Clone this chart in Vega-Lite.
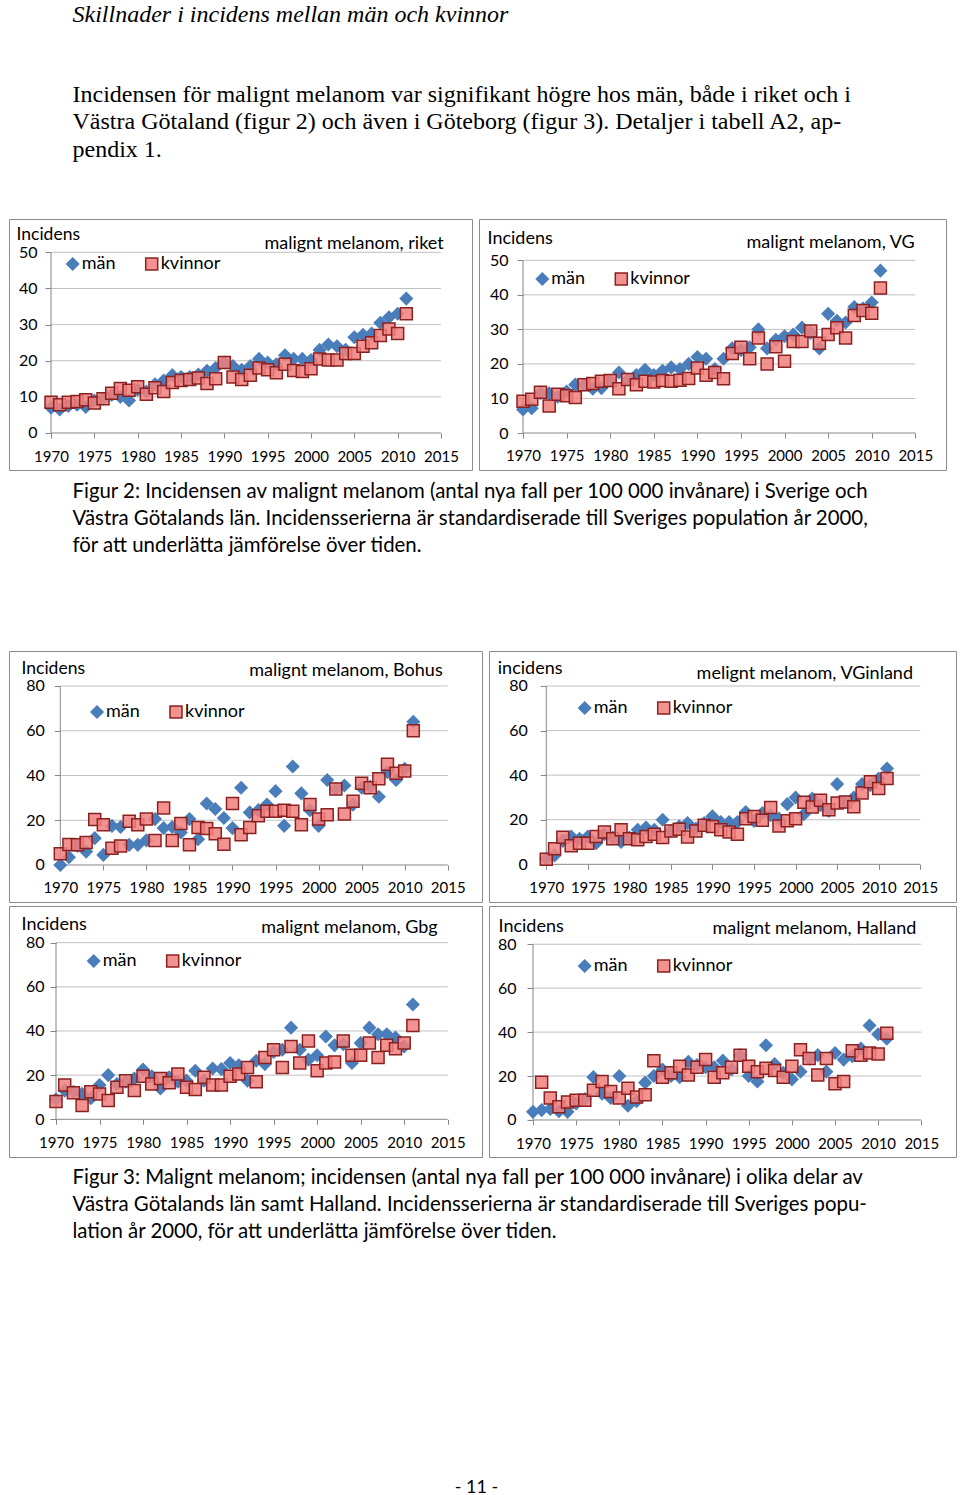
{
"$schema": "https://vega.github.io/schema/vega-lite/v6.json",
"padding": {"left": 8, "top": 2, "right": 0, "bottom": 0},
"title": {"text": "Skillnader i incidens mellan män och kvinnor", "subtitle": ["Incidensen för malignt melanom var signifikant högre hos män, både i riket och i", "Västra Götaland (figur 2) och även i Göteborg (figur 3). Detaljer i tabell A2, ap-", "pendix 1."], "anchor": "start", "dx": 64, "offset": 57, "font": "Liberation Serif", "fontSize": 24, "fontStyle": "italic", "fontWeight": "normal", "color": "#000", "subtitleFont": "Liberation Serif", "subtitleFontSize": 24, "subtitleFontStyle": "normal", "subtitleColor": "#000", "subtitleLineHeight": 27.5, "subtitlePadding": 56},
"resolve": {"scale": {"shape": "independent", "fill": "independent", "stroke": "independent"}, "legend": {"shape": "independent", "fill": "independent", "stroke": "independent"}},
"datasets": {
"riket": [
{"år":1970,"män":7,"kvinnor":8.5},{"år":1971,"män":6.5,"kvinnor":7.8},{"år":1972,"män":7.5,"kvinnor":8.5},{"år":1973,"män":7.8,"kvinnor":8.7},{"år":1974,"män":7.2,"kvinnor":9.2},{"år":1975,"män":9,"kvinnor":8.3},{"år":1976,"män":9.5,"kvinnor":9.5},{"år":1977,"män":10.5,"kvinnor":11},{"år":1978,"män":10,"kvinnor":12.3},{"år":1979,"män":9,"kvinnor":11.8},{"år":1980,"män":12,"kvinnor":12.8},{"år":1981,"män":11.5,"kvinnor":10.7},{"år":1982,"män":13.5,"kvinnor":12.5},{"år":1983,"män":14.5,"kvinnor":11.5},{"år":1984,"män":16,"kvinnor":14},{"år":1985,"män":15.5,"kvinnor":14.5},{"år":1986,"män":15.5,"kvinnor":14.8},{"år":1987,"män":16.2,"kvinnor":15.2},{"år":1988,"män":17.2,"kvinnor":13.7},{"år":1989,"män":18,"kvinnor":15},{"år":1990,"män":19.5,"kvinnor":19.5},{"år":1991,"män":18.5,"kvinnor":15.5},{"år":1992,"män":17.5,"kvinnor":14.8},{"år":1993,"män":18.5,"kvinnor":16},{"år":1994,"män":20.5,"kvinnor":18},{"år":1995,"män":19.5,"kvinnor":17.5},{"år":1996,"män":19,"kvinnor":16.7},{"år":1997,"män":21.5,"kvinnor":19},{"år":1998,"män":20.5,"kvinnor":17.3},{"år":1999,"män":20.5,"kvinnor":17},{"år":2000,"män":20.2,"kvinnor":17.8},{"år":2001,"män":23,"kvinnor":20.5},{"år":2002,"män":24.5,"kvinnor":20.2},{"år":2003,"män":24,"kvinnor":20.2},{"år":2004,"män":23,"kvinnor":22},{"år":2005,"män":26.5,"kvinnor":22},{"år":2006,"män":27.2,"kvinnor":24},{"år":2007,"män":27.5,"kvinnor":25},{"år":2008,"män":30.5,"kvinnor":27},{"år":2009,"män":32,"kvinnor":28.8},{"år":2010,"män":33,"kvinnor":27.5},{"år":2011,"män":37.2,"kvinnor":33}
],
"vg": [
{"år":1970,"män":6.8,"kvinnor":9.2},{"år":1971,"män":7.2,"kvinnor":9.8},{"år":1972,"män":11.5,"kvinnor":11.8},{"år":1973,"män":11.5,"kvinnor":7.8},{"år":1974,"män":10.5,"kvinnor":11.2},{"år":1975,"män":12,"kvinnor":10.8},{"år":1976,"män":14,"kvinnor":10.3},{"år":1977,"män":14,"kvinnor":14},{"år":1978,"män":12.8,"kvinnor":14.3},{"år":1979,"män":13,"kvinnor":15},{"år":1980,"män":15.2,"kvinnor":15.2},{"år":1981,"män":17.5,"kvinnor":12.8},{"år":1982,"män":15.5,"kvinnor":15.5},{"år":1983,"män":16.8,"kvinnor":14},{"år":1984,"män":18.3,"kvinnor":15},{"år":1985,"män":16.8,"kvinnor":14.8},{"år":1986,"män":18,"kvinnor":15.2},{"år":1987,"män":19,"kvinnor":15},{"år":1988,"män":18.5,"kvinnor":15.3},{"år":1989,"män":20,"kvinnor":15.8},{"år":1990,"män":22,"kvinnor":18.8},{"år":1991,"män":21.5,"kvinnor":16.7},{"år":1992,"män":18.5,"kvinnor":17.5},{"år":1993,"män":21.5,"kvinnor":15.7},{"år":1994,"män":24.5,"kvinnor":23},{"år":1995,"män":24,"kvinnor":24.8},{"år":1996,"män":24.8,"kvinnor":21.5},{"år":1997,"män":30,"kvinnor":27.5},{"år":1998,"män":24.5,"kvinnor":20},{"år":1999,"män":27,"kvinnor":25},{"år":2000,"män":28,"kvinnor":20.8},{"år":2001,"män":28.5,"kvinnor":26.5},{"år":2002,"män":30.5,"kvinnor":26.5},{"år":2003,"män":29,"kvinnor":29.5},{"år":2004,"män":24.5,"kvinnor":26},{"år":2005,"män":34.5,"kvinnor":28.5},{"år":2006,"män":32.5,"kvinnor":30.5},{"år":2007,"män":32,"kvinnor":27.5},{"år":2008,"män":36.5,"kvinnor":34},{"år":2009,"män":36,"kvinnor":35.5},{"år":2010,"män":37.8,"kvinnor":34.7},{"år":2011,"män":47,"kvinnor":42}
],
"bohus": [
{"år":1970,"män":0,"kvinnor":5},{"år":1971,"män":3.5,"kvinnor":9.2},{"år":1972,"män":8.5,"kvinnor":9},{"år":1973,"män":6,"kvinnor":10},{"år":1974,"män":12,"kvinnor":20.3},{"år":1975,"män":4.5,"kvinnor":18},{"år":1976,"män":17.5,"kvinnor":7.5},{"år":1977,"män":17,"kvinnor":8.5},{"år":1978,"män":9,"kvinnor":19.5},{"år":1979,"män":9,"kvinnor":18},{"år":1980,"män":11,"kvinnor":20.5},{"år":1981,"män":20.5,"kvinnor":11},{"år":1982,"män":16.5,"kvinnor":25.5},{"år":1983,"män":17,"kvinnor":11},{"år":1984,"män":14.5,"kvinnor":18.5},{"år":1985,"män":20.5,"kvinnor":9},{"år":1986,"män":11.5,"kvinnor":16.8},{"år":1987,"män":27.5,"kvinnor":16.3},{"år":1988,"män":25,"kvinnor":14},{"år":1989,"män":21,"kvinnor":9.3},{"år":1990,"män":16.5,"kvinnor":27.5},{"år":1991,"män":34.5,"kvinnor":13.5},{"år":1992,"män":23.5,"kvinnor":16.8},{"år":1993,"män":24.5,"kvinnor":22},{"år":1994,"män":27,"kvinnor":24},{"år":1995,"män":33,"kvinnor":24},{"år":1996,"män":17.5,"kvinnor":24.5},{"år":1997,"män":44,"kvinnor":24},{"år":1998,"män":32,"kvinnor":18},{"år":1999,"män":24.5,"kvinnor":27},{"år":2000,"män":17.5,"kvinnor":20.5},{"år":2001,"män":38,"kvinnor":22.5},{"år":2002,"män":34,"kvinnor":34},{"år":2003,"män":35.5,"kvinnor":22.8},{"år":2004,"män":27,"kvinnor":28.5},{"år":2005,"män":34.5,"kvinnor":36.5},{"år":2006,"män":35,"kvinnor":34.5},{"år":2007,"män":30.5,"kvinnor":38.5},{"år":2008,"män":41.5,"kvinnor":45},{"år":2009,"män":38,"kvinnor":41},{"år":2010,"män":43,"kvinnor":42},{"år":2011,"män":64,"kvinnor":60}
],
"vginland": [
{"år":1970,"män":2.5,"kvinnor":2.3},{"år":1971,"män":4,"kvinnor":7},{"år":1972,"män":10.5,"kvinnor":12.2},{"år":1973,"män":12.5,"kvinnor":8.3},{"år":1974,"män":11.5,"kvinnor":9.5},{"år":1975,"män":12.5,"kvinnor":9.5},{"år":1976,"män":9.5,"kvinnor":12.5},{"år":1977,"män":13.5,"kvinnor":14.5},{"år":1978,"män":12,"kvinnor":11.5},{"år":1979,"män":10,"kvinnor":15.5},{"år":1980,"män":12,"kvinnor":11.5},{"år":1981,"män":15.5,"kvinnor":11},{"år":1982,"män":16.5,"kvinnor":12.5},{"år":1983,"män":15.5,"kvinnor":13.5},{"år":1984,"män":20,"kvinnor":12},{"år":1985,"män":15,"kvinnor":15},{"år":1986,"män":17,"kvinnor":15.7},{"år":1987,"män":18.5,"kvinnor":12.3},{"år":1988,"män":16,"kvinnor":15},{"år":1989,"män":18.5,"kvinnor":17.5},{"år":1990,"män":21.5,"kvinnor":17},{"år":1991,"män":19,"kvinnor":15.5},{"år":1992,"män":19,"kvinnor":14.5},{"år":1993,"män":19,"kvinnor":13.5},{"år":1994,"män":23.5,"kvinnor":20.5},{"år":1995,"män":19.5,"kvinnor":21.5},{"år":1996,"män":23,"kvinnor":19.8},{"år":1997,"män":22,"kvinnor":25.5},{"år":1998,"män":20.5,"kvinnor":17.2},{"år":1999,"män":27,"kvinnor":19.5},{"år":2000,"män":30,"kvinnor":20.5},{"år":2001,"män":22.5,"kvinnor":27.8},{"år":2002,"män":29.5,"kvinnor":25.7},{"år":2003,"män":26.5,"kvinnor":28.8},{"år":2004,"män":24,"kvinnor":24.5},{"år":2005,"män":36,"kvinnor":27.5},{"år":2006,"män":28,"kvinnor":28},{"år":2007,"män":30,"kvinnor":25.8},{"år":2008,"män":36,"kvinnor":32},{"år":2009,"män":35.5,"kvinnor":37},{"år":2010,"män":38.5,"kvinnor":34},{"år":2011,"män":43,"kvinnor":38.5}
],
"gbg": [
{"år":1970,"män":9,"kvinnor":8},{"år":1971,"män":13,"kvinnor":15.5},{"år":1972,"män":12.5,"kvinnor":12},{"år":1973,"män":11.5,"kvinnor":6.2},{"år":1974,"män":9.5,"kvinnor":12.5},{"år":1975,"män":15.5,"kvinnor":11.5},{"år":1976,"män":20,"kvinnor":8.5},{"år":1977,"män":16,"kvinnor":14.5},{"år":1978,"män":17,"kvinnor":17.5},{"år":1979,"män":18.5,"kvinnor":13},{"år":1980,"män":22.5,"kvinnor":19.5},{"år":1981,"män":19.5,"kvinnor":16},{"år":1982,"män":14,"kvinnor":18.5},{"år":1983,"män":19,"kvinnor":16.5},{"år":1984,"män":17,"kvinnor":20.5},{"år":1985,"män":17.5,"kvinnor":14.5},{"år":1986,"män":22,"kvinnor":13.5},{"år":1987,"män":17.5,"kvinnor":19},{"år":1988,"män":23,"kvinnor":15.5},{"år":1989,"män":22.7,"kvinnor":15.5},{"år":1990,"män":25.5,"kvinnor":19.5},{"år":1991,"män":24.5,"kvinnor":20.5},{"år":1992,"män":17.5,"kvinnor":23.5},{"år":1993,"män":26.5,"kvinnor":17},{"år":1994,"män":25,"kvinnor":28},{"år":1995,"män":30.5,"kvinnor":31.5},{"år":1996,"män":31.5,"kvinnor":23.5},{"år":1997,"män":41.5,"kvinnor":33},{"år":1998,"män":31.5,"kvinnor":25.5},{"år":1999,"män":27,"kvinnor":35.5},{"år":2000,"män":29,"kvinnor":22},{"år":2001,"män":37.5,"kvinnor":25.5},{"år":2002,"män":33.5,"kvinnor":26},{"år":2003,"män":34,"kvinnor":35.5},{"år":2004,"män":25.5,"kvinnor":29},{"år":2005,"män":34.5,"kvinnor":29},{"år":2006,"män":41.5,"kvinnor":34.5},{"år":2007,"män":38.5,"kvinnor":28},{"år":2008,"män":38.5,"kvinnor":33.5},{"år":2009,"män":37,"kvinnor":32},{"år":2010,"män":33,"kvinnor":34.5},{"år":2011,"män":52,"kvinnor":42.5}
],
"halland": [
{"år":1970,"män":3.7,"kvinnor":null},{"år":1971,"män":4.5,"kvinnor":17.2},{"år":1972,"män":5,"kvinnor":10},{"år":1973,"män":4,"kvinnor":6},{"år":1974,"män":3.7,"kvinnor":8.2},{"år":1975,"män":7.5,"kvinnor":9},{"år":1976,"män":9.5,"kvinnor":9},{"år":1977,"män":19.5,"kvinnor":13.5},{"år":1978,"män":12,"kvinnor":17.5},{"år":1979,"män":10,"kvinnor":13},{"år":1980,"män":20,"kvinnor":10},{"år":1981,"män":6.5,"kvinnor":14.5},{"år":1982,"män":8.5,"kvinnor":10.5},{"år":1983,"män":17,"kvinnor":11.5},{"år":1984,"män":20,"kvinnor":27},{"år":1985,"män":23,"kvinnor":19.5},{"år":1986,"män":20,"kvinnor":21.5},{"år":1987,"män":19.5,"kvinnor":24.5},{"år":1988,"män":26.5,"kvinnor":20.5},{"år":1989,"män":25,"kvinnor":24},{"år":1990,"män":24,"kvinnor":27.5},{"år":1991,"män":24,"kvinnor":19.5},{"år":1992,"män":27,"kvinnor":21.5},{"år":1993,"män":23,"kvinnor":24},{"år":1994,"män":29.5,"kvinnor":29.5},{"år":1995,"män":20,"kvinnor":24.5},{"år":1996,"män":17.5,"kvinnor":22},{"år":1997,"män":34,"kvinnor":23.5},{"år":1998,"män":25.5,"kvinnor":22.5},{"år":1999,"män":21.5,"kvinnor":19.5},{"år":2000,"män":18.5,"kvinnor":24.5},{"år":2001,"män":22,"kvinnor":32},{"år":2002,"män":28,"kvinnor":28},{"år":2003,"män":29.5,"kvinnor":20.5},{"år":2004,"män":22,"kvinnor":28},{"år":2005,"män":30.5,"kvinnor":16.5},{"år":2006,"män":27.5,"kvinnor":17.5},{"år":2007,"män":29,"kvinnor":31.5},{"år":2008,"män":32.5,"kvinnor":29.5},{"år":2009,"män":43,"kvinnor":30.5},{"år":2010,"män":39,"kvinnor":30},{"år":2011,"män":37,"kvinnor":39.5}
]
},
"vconcat": [
{
"title": {"text": "- 11 -", "orient": "bottom", "anchor": "middle", "dx": -6, "offset": 237, "font": "Lato", "fontSize": 18, "fontWeight": "normal", "color": "#000"},
"resolve": {"scale": {"shape": "independent", "fill": "independent", "stroke": "independent"}, "legend": {"shape": "independent", "fill": "independent", "stroke": "independent"}},
"spacing": 11,
"vconcat": [
{
"spacing": 5,
"resolve": {"scale": {"shape": "independent", "fill": "independent", "stroke": "independent"}, "legend": {"shape": "independent", "fill": "independent", "stroke": "independent"}},
"hconcat": [
{
"width": 463, "height": 251, "data": {"name": "riket"},
"title": {"text": "malignt melanom, riket", "anchor": "end", "frame": "group", "offset": -34, "dx": -28.3, "font": "Lato", "fontSize": 18, "fontWeight": "normal", "color": "#000"},
"layer": [
{"data": {"values": [{"g":10},{"g":20},{"g":30},{"g":40},{"g":50}]}, "mark": {"type": "rule", "color": "#c0c0c0"}, "encoding": {"y": {"field": "g", "type": "quantitative"}, "x": {"datum": 1970, "type": "quantitative"}, "x2": {"datum": 2015}}},
{"data": {"values": [{}]}, "mark": {"type": "rule", "color": "#868686"}, "encoding": {"y": {"datum": 0, "type": "quantitative"}, "x": {"datum": 1970, "type": "quantitative"}, "x2": {"datum": 2015}}},
{"data": {"values": [{}]}, "mark": {"type": "rule", "color": "#868686"}, "encoding": {"x": {"datum": 1970, "type": "quantitative"}, "y": {"datum": 0, "type": "quantitative"}, "y2": {"datum": 50}}},
{"mark": {"type": "point", "filled": true, "size": 144, "strokeWidth": 1.5, "opacity": 1},
 "encoding": {
  "x": {"field": "år", "type": "quantitative", "scale": {"domain": [1965.15, 2018.58], "nice": false, "zero": false}, "axis": {"values": [1970,1975,1980,1985,1990,1995,2000,2005,2010,2015], "format": "d", "offset": -37, "labelPadding": 11, "title": null}},
  "y": {"field": "män", "type": "quantitative", "scale": {"domain": [-10.24, 59.22], "nice": false, "zero": false}, "axis": {"values": [0,10,20,30,40,50], "offset": -42, "labelPadding": 8, "title": "Incidens", "titleX": -35, "titleY": 15.3, "titleFontSize": 17.5}},
  "shape": {"datum": "män", "scale": {"domain": ["män","kvinnor"], "range": ["diamond","square"]}, "legend": {"orient": "none", "legendX": 54.7, "legendY": 36, "direction": "horizontal", "title": null}},
  "fill": {"datum": "män", "scale": {"domain": ["män","kvinnor"], "range": ["#4a7ebb","rgba(240,128,126,0.85)"]}},
  "stroke": {"datum": "män", "scale": {"domain": ["män","kvinnor"], "range": ["#4a7ebb","#8b2020"]}}
 }},
{"mark": {"type": "point", "filled": true, "size": 144, "strokeWidth": 1.5, "opacity": 1},
 "encoding": {"x": {"field": "år", "type": "quantitative"}, "y": {"field": "kvinnor", "type": "quantitative"}, "shape": {"datum": "kvinnor"}, "fill": {"datum": "kvinnor"}, "stroke": {"datum": "kvinnor"}}}
]
},
{
"width": 467, "height": 251, "data": {"name": "vg"},
"title": {"text": "malignt melanom, VG", "anchor": "end", "frame": "group", "offset": -33, "dx": -31.3, "font": "Lato", "fontSize": 18, "fontWeight": "normal", "color": "#000"},
"layer": [
{"data": {"values": [{"g":10},{"g":20},{"g":30},{"g":40},{"g":50}]}, "mark": {"type": "rule", "color": "#c0c0c0"}, "encoding": {"y": {"field": "g", "type": "quantitative"}, "x": {"datum": 1970, "type": "quantitative"}, "x2": {"datum": 2015}}},
{"data": {"values": [{}]}, "mark": {"type": "rule", "color": "#868686"}, "encoding": {"y": {"datum": 0, "type": "quantitative"}, "x": {"datum": 1970, "type": "quantitative"}, "x2": {"datum": 2015}}},
{"data": {"values": [{}]}, "mark": {"type": "rule", "color": "#868686"}, "encoding": {"x": {"datum": 1970, "type": "quantitative"}, "y": {"datum": 0, "type": "quantitative"}, "y2": {"datum": 50}}},
{"mark": {"type": "point", "filled": true, "size": 144, "strokeWidth": 1.5, "opacity": 1},
 "encoding": {
  "x": {"field": "år", "type": "quantitative", "scale": {"domain": [1964.95, 2018.52], "nice": false, "zero": false}, "axis": {"values": [1970,1975,1980,1985,1990,1995,2000,2005,2010,2015], "format": "d", "offset": -37, "labelPadding": 10, "title": null}},
  "y": {"field": "män", "type": "quantitative", "scale": {"domain": [-10.71, 61.96], "nice": false, "zero": false}, "axis": {"values": [0,10,20,30,40,50], "offset": -44, "labelPadding": 9, "title": "Incidens", "titleX": -36, "titleY": 19.7}},
  "shape": {"datum": "män", "scale": {"domain": ["män","kvinnor"], "range": ["diamond","square"]}, "legend": {"orient": "none", "legendX": 54.3, "legendY": 51, "direction": "horizontal", "title": null}},
  "fill": {"datum": "män", "scale": {"domain": ["män","kvinnor"], "range": ["#4a7ebb","rgba(240,128,126,0.85)"]}},
  "stroke": {"datum": "män", "scale": {"domain": ["män","kvinnor"], "range": ["#4a7ebb","#8b2020"]}}
 }},
{"mark": {"type": "point", "filled": true, "size": 144, "strokeWidth": 1.5, "opacity": 1},
 "encoding": {"x": {"field": "år", "type": "quantitative"}, "y": {"field": "kvinnor", "type": "quantitative"}, "shape": {"datum": "kvinnor"}, "fill": {"datum": "kvinnor"}, "stroke": {"datum": "kvinnor"}}}
]
}
]
},
{
"title": {"text": ["Figur 2: Incidensen av malignt melanom (antal nya fall per 100 000 invånare) i Sverige och", "Västra Götalands län. Incidensserierna är standardiserade till Sveriges population år 2000,", "för att underlätta jämförelse över tiden."], "anchor": "start", "dx": 64, "offset": 94, "font": "Lato", "fontSize": 20.4, "fontWeight": "normal", "color": "#000", "lineHeight": 27},
"resolve": {"scale": {"shape": "independent", "fill": "independent", "stroke": "independent"}, "legend": {"shape": "independent", "fill": "independent", "stroke": "independent"}},
"vconcat": [
{
"title": {"text": ["Figur 3: Malignt melanom; incidensen (antal nya fall per 100 000 invånare) i olika delar av", "Västra Götalands län samt Halland. Incidensserierna är standardiserade till Sveriges popu-", "lation år 2000, för att underlätta jämförelse över tiden."], "orient": "bottom", "anchor": "start", "dx": 64, "offset": 10, "font": "Lato", "fontSize": 20.4, "fontWeight": "normal", "color": "#000", "lineHeight": 27},
"resolve": {"scale": {"shape": "independent", "fill": "independent", "stroke": "independent"}, "legend": {"shape": "independent", "fill": "independent", "stroke": "independent"}},
"spacing": 2,
"vconcat": [
{
"spacing": 5,
"resolve": {"scale": {"shape": "independent", "fill": "independent", "stroke": "independent"}, "legend": {"shape": "independent", "fill": "independent", "stroke": "independent"}},
"hconcat": [
{
"width": 473, "height": 251, "data": {"name": "bohus"},
"title": {"text": "malignt melanom, Bohus", "anchor": "end", "frame": "group", "offset": -28.8, "dx": -39.3, "font": "Lato", "fontSize": 18, "fontWeight": "normal", "color": "#000"},
"layer": [
{"data": {"values": [{"g":20},{"g":40},{"g":60},{"g":80}]}, "mark": {"type": "rule", "color": "#c0c0c0"}, "encoding": {"y": {"field": "g", "type": "quantitative"}, "x": {"datum": 1970, "type": "quantitative"}, "x2": {"datum": 2015}}},
{"data": {"values": [{}]}, "mark": {"type": "rule", "color": "#868686"}, "encoding": {"y": {"datum": 0, "type": "quantitative"}, "x": {"datum": 1970, "type": "quantitative"}, "x2": {"datum": 2015}}},
{"data": {"values": [{}]}, "mark": {"type": "rule", "color": "#868686"}, "encoding": {"x": {"datum": 1970, "type": "quantitative"}, "y": {"datum": 0, "type": "quantitative"}, "y2": {"datum": 80}}},
{"mark": {"type": "point", "filled": true, "size": 144, "strokeWidth": 1.5, "opacity": 1},
 "encoding": {
  "x": {"field": "år", "type": "quantitative", "scale": {"domain": [1964.04, 2018.98], "nice": false, "zero": false}, "axis": {"values": [1970,1975,1980,1985,1990,1995,2000,2005,2010,2015], "format": "d", "offset": -37, "labelPadding": 10, "title": null}},
  "y": {"field": "män", "type": "quantitative", "scale": {"domain": [-16.54, 95.64], "nice": false, "zero": false}, "axis": {"values": [0,20,40,60,80], "offset": -51.3, "labelPadding": 10, "title": "Incidens", "titleX": -39.3, "titleY": 17, "titleFontSize": 17.5}},
  "shape": {"datum": "män", "scale": {"domain": ["män","kvinnor"], "range": ["diamond","square"]}, "legend": {"orient": "none", "legendX": 79, "legendY": 52, "direction": "horizontal", "title": null}},
  "fill": {"datum": "män", "scale": {"domain": ["män","kvinnor"], "range": ["#4a7ebb","rgba(240,128,126,0.85)"]}},
  "stroke": {"datum": "män", "scale": {"domain": ["män","kvinnor"], "range": ["#4a7ebb","#8b2020"]}}
 }},
{"mark": {"type": "point", "filled": true, "size": 144, "strokeWidth": 1.5, "opacity": 1},
 "encoding": {"x": {"field": "år", "type": "quantitative"}, "y": {"field": "kvinnor", "type": "quantitative"}, "shape": {"datum": "kvinnor"}, "fill": {"datum": "kvinnor"}, "stroke": {"datum": "kvinnor"}}}
]
},
{
"width": 467, "height": 251, "data": {"name": "vginland"},
"title": {"text": "melignt melanom, VGinland", "anchor": "end", "frame": "group", "offset": -31.8, "dx": -43, "font": "Lato", "fontSize": 18, "fontWeight": "normal", "color": "#000"},
"layer": [
{"data": {"values": [{"g":20},{"g":40},{"g":60},{"g":80}]}, "mark": {"type": "rule", "color": "#c0c0c0"}, "encoding": {"y": {"field": "g", "type": "quantitative"}, "x": {"datum": 1970, "type": "quantitative"}, "x2": {"datum": 2015}}},
{"data": {"values": [{}]}, "mark": {"type": "rule", "color": "#868686"}, "encoding": {"y": {"datum": 0, "type": "quantitative"}, "x": {"datum": 1970, "type": "quantitative"}, "x2": {"datum": 2015}}},
{"data": {"values": [{}]}, "mark": {"type": "rule", "color": "#868686"}, "encoding": {"x": {"datum": 1970, "type": "quantitative"}, "y": {"datum": 0, "type": "quantitative"}, "y2": {"datum": 80}}},
{"mark": {"type": "point", "filled": true, "size": 144, "strokeWidth": 1.5, "opacity": 1},
 "encoding": {
  "x": {"field": "år", "type": "quantitative", "scale": {"domain": [1963.11, 2019.3], "nice": false, "zero": false}, "axis": {"values": [1970,1975,1980,1985,1990,1995,2000,2005,2010,2015], "format": "d", "offset": -37.7, "labelPadding": 11.5, "title": null}},
  "y": {"field": "män", "type": "quantitative", "scale": {"domain": [-16.9, 95.7], "nice": false, "zero": false}, "axis": {"values": [0,20,40,60,80], "offset": -57.3, "labelPadding": 13, "title": "incidens", "titleX": -49, "titleY": 17.4}},
  "shape": {"datum": "män", "scale": {"domain": ["män","kvinnor"], "range": ["diamond","square"]}, "legend": {"orient": "none", "legendX": 86.7, "legendY": 48, "direction": "horizontal", "title": null}},
  "fill": {"datum": "män", "scale": {"domain": ["män","kvinnor"], "range": ["#4a7ebb","rgba(240,128,126,0.85)"]}},
  "stroke": {"datum": "män", "scale": {"domain": ["män","kvinnor"], "range": ["#4a7ebb","#8b2020"]}}
 }},
{"mark": {"type": "point", "filled": true, "size": 144, "strokeWidth": 1.5, "opacity": 1},
 "encoding": {"x": {"field": "år", "type": "quantitative"}, "y": {"field": "kvinnor", "type": "quantitative"}, "shape": {"datum": "kvinnor"}, "fill": {"datum": "kvinnor"}, "stroke": {"datum": "kvinnor"}}}
]
}
]
},
{
"spacing": 5,
"resolve": {"scale": {"shape": "independent", "fill": "independent", "stroke": "independent"}, "legend": {"shape": "independent", "fill": "independent", "stroke": "independent"}},
"hconcat": [
{
"width": 473, "height": 251, "data": {"name": "gbg"},
"title": {"text": "malignt melanom, Gbg", "anchor": "end", "frame": "group", "offset": -31.2, "dx": -44.3, "font": "Lato", "fontSize": 18, "fontWeight": "normal", "color": "#000"},
"layer": [
{"data": {"values": [{"g":20},{"g":40},{"g":60},{"g":80}]}, "mark": {"type": "rule", "color": "#c0c0c0"}, "encoding": {"y": {"field": "g", "type": "quantitative"}, "x": {"datum": 1970, "type": "quantitative"}, "x2": {"datum": 2015}}},
{"data": {"values": [{}]}, "mark": {"type": "rule", "color": "#868686"}, "encoding": {"y": {"datum": 0, "type": "quantitative"}, "x": {"datum": 1970, "type": "quantitative"}, "x2": {"datum": 2015}}},
{"data": {"values": [{}]}, "mark": {"type": "rule", "color": "#868686"}, "encoding": {"x": {"datum": 1970, "type": "quantitative"}, "y": {"datum": 0, "type": "quantitative"}, "y2": {"datum": 80}}},
{"mark": {"type": "point", "filled": true, "size": 144, "strokeWidth": 1.5, "opacity": 1},
 "encoding": {
  "x": {"field": "år", "type": "quantitative", "scale": {"domain": [1964.6, 2018.94], "nice": false, "zero": false}, "axis": {"values": [1970,1975,1980,1985,1990,1995,2000,2005,2010,2015], "format": "d", "offset": -37.7, "labelPadding": 11.5, "title": null}},
  "y": {"field": "män", "type": "quantitative", "scale": {"domain": [-17.08, 96.6], "nice": false, "zero": false}, "axis": {"values": [0,20,40,60,80], "offset": -47, "labelPadding": 6, "title": "Incidens", "titleX": -35, "titleY": 18.6}},
  "shape": {"datum": "män", "scale": {"domain": ["män","kvinnor"], "range": ["diamond","square"]}, "legend": {"orient": "none", "legendX": 75.7, "legendY": 46, "direction": "horizontal", "title": null}},
  "fill": {"datum": "män", "scale": {"domain": ["män","kvinnor"], "range": ["#4a7ebb","rgba(240,128,126,0.85)"]}},
  "stroke": {"datum": "män", "scale": {"domain": ["män","kvinnor"], "range": ["#4a7ebb","#8b2020"]}}
 }},
{"mark": {"type": "point", "filled": true, "size": 144, "strokeWidth": 1.5, "opacity": 1},
 "encoding": {"x": {"field": "år", "type": "quantitative"}, "y": {"field": "kvinnor", "type": "quantitative"}, "shape": {"datum": "kvinnor"}, "fill": {"datum": "kvinnor"}, "stroke": {"datum": "kvinnor"}}}
]
},
{
"width": 467, "height": 251, "data": {"name": "halland"},
"title": {"text": "malignt melanom, Halland", "anchor": "end", "frame": "group", "offset": -31.8, "dx": -39.7, "font": "Lato", "fontSize": 18, "fontWeight": "normal", "color": "#000"},
"layer": [
{"data": {"values": [{"g":20},{"g":40},{"g":60},{"g":80}]}, "mark": {"type": "rule", "color": "#c0c0c0"}, "encoding": {"y": {"field": "g", "type": "quantitative"}, "x": {"datum": 1970, "type": "quantitative"}, "x2": {"datum": 2015}}},
{"data": {"values": [{}]}, "mark": {"type": "rule", "color": "#868686"}, "encoding": {"y": {"datum": 0, "type": "quantitative"}, "x": {"datum": 1970, "type": "quantitative"}, "x2": {"datum": 2015}}},
{"data": {"values": [{}]}, "mark": {"type": "rule", "color": "#868686"}, "encoding": {"x": {"datum": 1970, "type": "quantitative"}, "y": {"datum": 0, "type": "quantitative"}, "y2": {"datum": 80}}},
{"mark": {"type": "point", "filled": true, "size": 144, "strokeWidth": 1.5, "opacity": 1},
 "encoding": {
  "x": {"field": "år", "type": "quantitative", "scale": {"domain": [1964.9, 2019.02], "nice": false, "zero": false}, "axis": {"values": [1970,1975,1980,1985,1990,1995,2000,2005,2010,2015], "format": "d", "offset": -37, "labelPadding": 11.5, "title": null}},
  "y": {"field": "män", "type": "quantitative", "scale": {"domain": [-16.85, 97.4], "nice": false, "zero": false}, "axis": {"values": [0,20,40,60,80], "offset": -44, "labelPadding": 11, "title": "Incidens", "titleX": -35, "titleY": 20}},
  "shape": {"datum": "män", "scale": {"domain": ["män","kvinnor"], "range": ["diamond","square"]}, "legend": {"orient": "none", "legendX": 86.7, "legendY": 51, "direction": "horizontal", "title": null}},
  "fill": {"datum": "män", "scale": {"domain": ["män","kvinnor"], "range": ["#4a7ebb","rgba(240,128,126,0.85)"]}},
  "stroke": {"datum": "män", "scale": {"domain": ["män","kvinnor"], "range": ["#4a7ebb","#8b2020"]}}
 }},
{"mark": {"type": "point", "filled": true, "size": 144, "strokeWidth": 1.5, "opacity": 1},
 "encoding": {"x": {"field": "år", "type": "quantitative"}, "y": {"field": "kvinnor", "type": "quantitative"}, "shape": {"datum": "kvinnor"}, "fill": {"datum": "kvinnor"}, "stroke": {"datum": "kvinnor"}}}
]
}
]
}
]
}
]
}
]
}
],
"config": {
"font": "Lato",
"view": {"stroke": "#8c8c8c", "strokeWidth": 1},
"axis": {"domain": false, "grid": false, "ticks": true, "tickColor": "#868686", "tickWidth": 1, "labelColor": "#000", "labelFont": "Lato", "labelFlush": false, "labelOverlap": false, "titleFont": "Lato", "titleFontWeight": "normal", "titleColor": "#000", "titleFontSize": 18},
"axisX": {"labelFontSize": 15, "tickSize": 5},
"axisY": {"labelFontSize": 16, "tickSize": 6, "titleAngle": 0, "titleAlign": "left", "titleBaseline": "middle"},
"legend": {"padding": 0, "symbolSize": 144, "symbolStrokeWidth": 1.5, "labelFont": "Lato", "labelFontSize": 18, "labelColor": "#000", "labelOffset": 0, "columnPadding": 27, "rowPadding": 0}
}
}
